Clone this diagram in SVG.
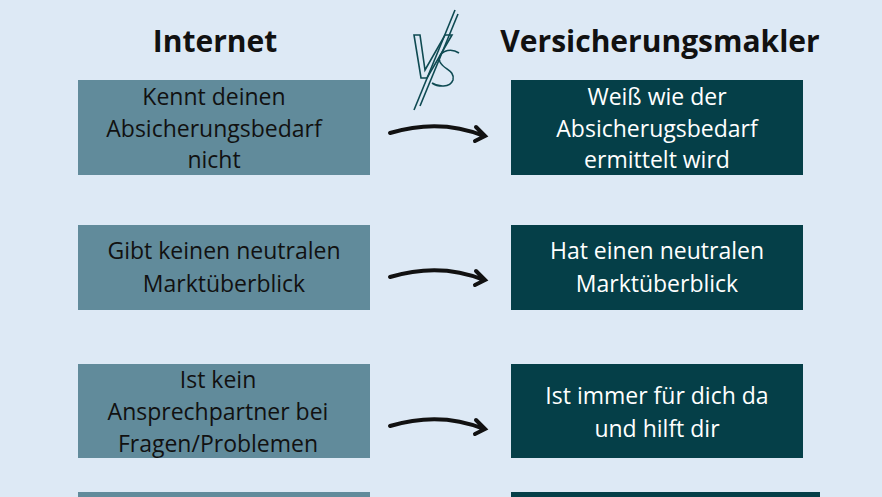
<svg xmlns="http://www.w3.org/2000/svg" width="882" height="497" viewBox="0 0 882 497">
<style>
.l{fill:#618b9b}.r{fill:#053f48}
.t{font-family:"Open Sans","Liberation Sans",sans-serif;font-size:23px;text-anchor:middle}
.lt{fill:#111}.rt{fill:#fff}
.h{font-family:"Open Sans","Liberation Sans",sans-serif;font-size:30px;font-weight:bold;text-anchor:middle;fill:#111}
.a{fill:none;stroke:#111;stroke-width:4;stroke-linecap:round}
</style>
<rect width="882" height="497" fill="#dde9f5"/>
<text class="h" x="215" y="52">Internet</text>
<text class="h" x="660" y="52">Versicherungsmakler</text>
<g id="vs" fill="none" stroke="#0e4a52" stroke-width="1.6">
<line x1="455" y1="10" x2="414" y2="110"/>
<line x1="458" y1="14" x2="420" y2="106"/>
<path d="M414 35 L420 35 L425 70 L445 35 L452 35 L427 78 L421 78 Z"/>
<path d="M459 53 C450 47 436 52 440 62 C444 70 455 70 453 80 C450 88 438 87 432 83"/>
</g>
<g id="n1"><rect class="l" x="78" y="80" width="292" height="95"/><text class="t lt" x="214" y="105">Kennt deinen</text><text class="t lt" x="214" y="137">Absicherungsbedarf</text><text class="t lt" x="214" y="168">nicht</text></g>
<g id="n2"><rect class="r" x="511" y="80" width="292" height="95"/><text class="t rt" x="657" y="105">Weiß wie der</text><text class="t rt" x="657" y="137">Absicherugsbedarf</text><text class="t rt" x="657" y="168">ermittelt wird</text></g>
<g id="n3"><rect class="l" x="78" y="225" width="292" height="85"/><text class="t lt" x="224" y="259">Gibt keinen neutralen</text><text class="t lt" x="224" y="292">Marktüberblick</text></g>
<g id="n4"><rect class="r" x="511" y="225" width="292" height="85"/><text class="t rt" x="657" y="259">Hat einen neutralen</text><text class="t rt" x="657" y="292">Marktüberblick</text></g>
<g id="n5"><rect class="l" x="78" y="364" width="292" height="94"/><text class="t lt" x="218" y="388">Ist kein</text><text class="t lt" x="218" y="420">Ansprechpartner bei</text><text class="t lt" x="218" y="452">Fragen/Problemen</text></g>
<g id="n6"><rect class="r" x="511" y="364" width="292" height="94"/><text class="t rt" x="657" y="404">Ist immer für dich da</text><text class="t rt" x="657" y="437">und hilft dir</text></g>
<g id="n7"><rect class="l" x="78" y="492" width="292" height="10"/></g>
<g id="n8"><rect class="r" x="511" y="492" width="309" height="10"/></g>
<g id="connectors">
<path class="a" d="M390 133 Q440 118 484 136 M476 127 L485 136 L475 141"/>
<path class="a" d="M390 277 Q440 262 484 280 M476 271 L485 280 L475 285"/>
<path class="a" d="M390 426 Q440 411 484 429 M476 420 L485 429 L475 434"/>
</g>
</svg>
